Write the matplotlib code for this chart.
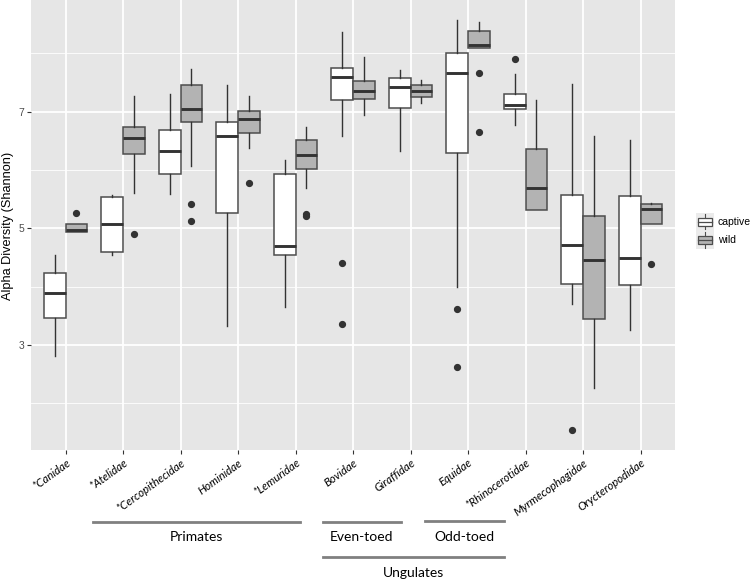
import matplotlib
matplotlib.use("Agg")
import matplotlib.pyplot as plt
from matplotlib.patches import Rectangle
from matplotlib.lines import Line2D
from matplotlib.legend_handler import HandlerBase
from matplotlib.transforms import blended_transform_factory

categories = ['*Canidae', '*Atelidae', '*Cercopithecidae', 'Hominidae', '*Lemuridae',
              'Bovidae', 'Giraffidae', 'Equidae', '*Rhinocerotidae',
              'Myrmecophagidae', 'Orycteropodidae']

# captive series (box stats)
captive_whislo = [2.81, 4.54, 5.59, 3.33, 3.66, 6.58, 6.33, 3.99, 6.78, 3.70, 3.25]
captive_q1     = [3.47, 4.60, 5.93, 5.26, 4.54, 7.20, 7.07, 6.29, 7.05, 4.04, 4.03]
captive_med    = [3.89, 5.08, 6.33, 6.59, 4.70, 7.59, 7.43, 7.66, 7.12, 4.71, 4.50]
captive_q3     = [4.23, 5.54, 6.68, 6.83, 5.93, 7.75, 7.58, 8.00, 7.31, 5.57, 5.55]
captive_whishi = [4.54, 5.58, 7.30, 7.46, 6.18, 8.37, 7.71, 8.57, 7.65, 7.47, 6.51]
captive_fliers = [[], [], [], [], [], [4.40, 3.36], [], [3.61, 2.62], [7.91], [1.54], []]

# wild series (box stats)
wild_whislo = [4.93, 5.60, 6.07, 6.37, 5.69, 6.94, 7.15, 8.10, 5.31, 2.27, 5.07]
wild_q1     = [4.93, 6.27, 6.83, 6.64, 6.02, 7.21, 7.25, 8.10, 5.31, 3.45, 5.07]
wild_med    = [4.97, 6.55, 7.05, 6.88, 6.26, 7.35, 7.36, 8.15, 5.70, 4.45, 5.34]
wild_q3     = [5.07, 6.73, 7.45, 7.02, 6.52, 7.53, 7.45, 8.38, 6.36, 5.21, 5.41]
wild_whishi = [5.07, 7.27, 7.73, 7.27, 6.74, 7.93, 7.55, 8.54, 7.20, 6.58, 5.43]
wild_fliers = [[5.27], [4.90], [5.42, 5.13], [5.78], [5.24, 5.21], [], [], [7.66, 6.66], [], [], [4.39]]

series_names = ['captive', 'wild']
series_colors = ['#FFFFFF', '#B3B3B3']

y_ticks = [3, 5, 7]
y_minor = [2, 4, 6, 8]

groups = ['Primates', 'Even-toed', 'Odd-toed', 'Ungulates']

EDGE = '#4D4D4D'
DARK = '#333333'
BG = '#E6E6E6'


def make_stats(wl, q1, med, q3, wh, fl):
    return [dict(whislo=a, q1=b, med=c, q3=d, whishi=e, fliers=f)
            for a, b, c, d, e, f in zip(wl, q1, med, q3, wh, fl)]


captive_stats = make_stats(captive_whislo, captive_q1, captive_med, captive_q3,
                           captive_whishi, captive_fliers)
wild_stats = make_stats(wild_whislo, wild_q1, wild_med, wild_q3, wild_whishi, wild_fliers)

fig = plt.figure(figsize=(7.5, 5.8), dpi=100)
ax = fig.add_axes([31 / 750, 1 - 450 / 580, (675 - 31) / 750, 450 / 580])
ax.set_facecolor(BG)
for s in ax.spines.values():
    s.set_visible(False)

x = list(range(len(categories)))
dodge = 0.1875
bw = 0.375

for stats, off, col in [(captive_stats, -dodge, series_colors[0]), (wild_stats, dodge, series_colors[1])]:
    ax.bxp(stats, positions=[xi + off for xi in x], widths=bw, patch_artist=True,
           showcaps=False,
           boxprops=dict(facecolor=col, edgecolor=EDGE, linewidth=1.1),
           medianprops=dict(color=DARK, linewidth=2.1, solid_capstyle='butt'),
           whiskerprops=dict(color=DARK, linewidth=1.0),
           flierprops=dict(marker='o', markerfacecolor=DARK, markeredgecolor=DARK,
                           markersize=4.2, linestyle='none'),
           zorder=3)

ax.set_xlim(-0.6, len(categories) - 0.4)
ax.set_ylim(1.2, 8.915)

ax.set_yticks(y_ticks)
ax.set_yticks(y_minor, minor=True)
ax.grid(True, which='major', axis='y', color='white', linewidth=1.3, zorder=0)
ax.grid(True, which='minor', axis='y', color='white', linewidth=0.6, zorder=0)
ax.grid(True, which='major', axis='x', color='white', linewidth=1.3, zorder=0)
ax.set_axisbelow(True)
ax.tick_params(axis='y', which='minor', length=0)
ax.tick_params(axis='both', which='major', length=3, width=0.8, color=DARK, pad=2)
ax.set_yticklabels([str(v) for v in y_ticks], fontsize=7.5, color='#4D4D4D',
                   family='Liberation Sans')

ax.set_xticks(x)
ax.set_xticklabels(categories, rotation=36, ha='right', va='top', rotation_mode='anchor',
                   fontsize=8.2, family='Lato', style='italic', color='black')

fig.text(8 / 750, 1 - 226 / 580, 'Alpha Diversity (Shannon)', rotation=90,
         ha='center', va='center', fontsize=9.2, family='Liberation Sans', color='black')

# group annotations
tr = blended_transform_factory(ax.transData, fig.transFigure)
line_col = '#808080'
spans = [(0.48, 4.07, 0.100), (4.47, 5.84, 0.100), (6.26, 7.62, 0.101), (4.47, 7.62, 0.0397)]
text_y = [0.074, 0.074, 0.074, 0.0125]
for (x0, x1, yl), name, ty in zip(spans, groups, text_y):
    ax.add_line(Line2D([x0, x1], [yl, yl], transform=tr, color=line_col, linewidth=2.0,
                       clip_on=False))
    ax.text((x0 + x1) / 2, ty, name, transform=tr, ha='center', va='center',
            fontsize=10, family='Lato', color='black', clip_on=False)


class BoxHandler(HandlerBase):
    def create_artists(self, legend, orig_handle, xdescent, ydescent, width, height,
                       fontsize, trans):
        x0, y0 = -xdescent, -ydescent
        fc = orig_handle.get_facecolor()
        bg = Rectangle((x0, y0), width, height, facecolor='#EBEBEB', edgecolor='none',
                       transform=trans)
        wl = Line2D([x0 + width / 2] * 2, [y0 + 0.08 * height, y0 + 0.92 * height],
                    color=EDGE, linewidth=0.8, transform=trans)
        box = Rectangle((x0 + 0.1 * width, y0 + 0.28 * height), 0.8 * width, 0.44 * height,
                        facecolor=fc, edgecolor=EDGE, linewidth=0.9, transform=trans)
        med = Line2D([x0 + 0.1 * width, x0 + 0.9 * width], [y0 + 0.5 * height] * 2,
                     color=EDGE, linewidth=0.9, transform=trans)
        return [bg, wl, box, med]


handles = [Rectangle((0, 0), 1, 1, facecolor=c) for c in series_colors]
leg = fig.legend(handles, series_names, loc='upper left',
                 bbox_to_anchor=(695.7 / 750, 1 - 212.7 / 580),
                 frameon=False, borderpad=0, borderaxespad=0, labelspacing=0,
                 handlelength=1.75, handleheight=2.3, handletextpad=0.35,
                 prop={'family': 'Liberation Sans', 'size': 7.5},
                 handler_map={Rectangle: BoxHandler()})

fig.savefig('out.png', dpi=100)
